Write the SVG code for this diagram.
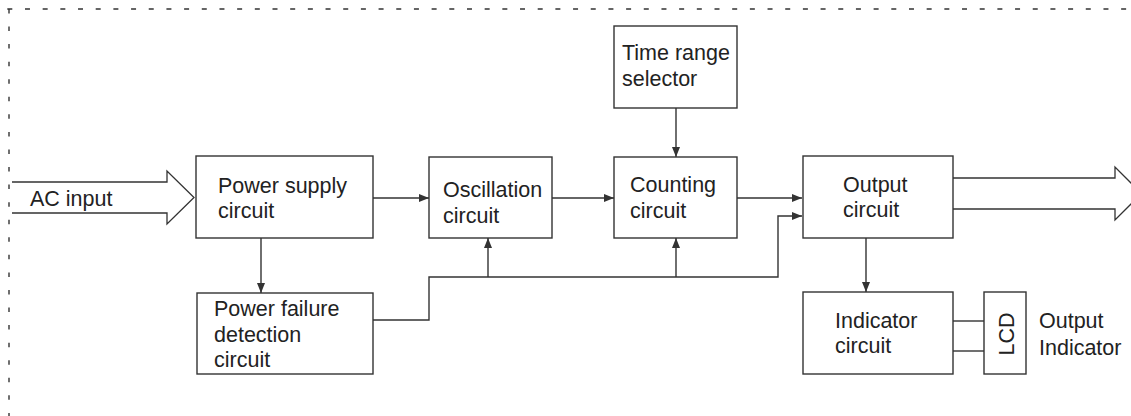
<svg xmlns="http://www.w3.org/2000/svg" width="1131" height="416" viewBox="0 0 1131 416">
<style>
.box{fill:#fff;stroke:#333;stroke-width:1.4}
.ln{fill:none;stroke:#333;stroke-width:1.4}
.big{fill:#fff;stroke:#333;stroke-width:1.3;stroke-linejoin:miter}
.t{font-family:"Liberation Sans",Arial,sans-serif;font-size:21.5px;fill:#222}
.bd{fill:none;stroke:#333;stroke-width:1.4}
</style>
<defs>
<marker id="ah" viewBox="0 0 10 8" refX="10" refY="4" markerWidth="10" markerHeight="8" markerUnits="userSpaceOnUse" orient="auto">
<path d="M0,0 L10,4 L0,8 Z" fill="#333"/>
</marker>
</defs>
<g id="border">
<line class="bd" x1="7.3" y1="9" x2="1131" y2="9" stroke-dasharray="5 12.68"/>
<line class="bd" x1="9" y1="9" x2="9" y2="416" stroke-dasharray="4.5 13.06"/>
</g>
<g id="connectors">
<line class="ln" x1="373" y1="198" x2="429" y2="198" marker-end="url(#ah)"/>
<line class="ln" x1="552" y1="198" x2="614" y2="198" marker-end="url(#ah)"/>
<line class="ln" x1="737" y1="198" x2="802" y2="198" marker-end="url(#ah)"/>
<line class="ln" x1="676" y1="108" x2="676" y2="157" marker-end="url(#ah)"/>
<line class="ln" x1="261" y1="238" x2="261" y2="293" marker-end="url(#ah)"/>
<polyline class="ln" points="373,320 429,320 429,277 778,277 778,216 802,216" marker-end="url(#ah)"/>
<line class="ln" x1="488" y1="277" x2="488" y2="238" marker-end="url(#ah)"/>
<line class="ln" x1="676" y1="277" x2="676" y2="238" marker-end="url(#ah)"/>
<line class="ln" x1="866" y1="238" x2="866" y2="292" marker-end="url(#ah)"/>
<line class="ln" x1="953" y1="321" x2="984" y2="321"/>
<line class="ln" x1="953" y1="351" x2="984" y2="351"/>
<path class="big" d="M12,182 H167 V171 L194,197.5 L167,224 V213 H12"/>
<path class="big" d="M953,178 H1115 V167 L1141.5,193.5 L1115,220 V209 H953"/>
</g>
<g id="ac-input"><text class="t" x="30" y="206">AC input</text></g>
<g id="power-supply">
<rect class="box" x="196" y="156" width="177" height="82"/>
<text class="t" x="218" y="193">Power supply</text>
<text class="t" x="218" y="218">circuit</text>
</g>
<g id="power-failure">
<rect class="box" x="197" y="293" width="176" height="81"/>
<text class="t" x="214" y="316">Power failure</text>
<text class="t" x="214" y="342">detection</text>
<text class="t" x="214" y="367">circuit</text>
</g>
<g id="oscillation">
<rect class="box" x="429" y="157" width="123" height="81"/>
<text class="t" x="443" y="197">Oscillation</text>
<text class="t" x="443" y="223">circuit</text>
</g>
<g id="counting">
<rect class="box" x="614" y="157" width="123" height="81"/>
<text class="t" x="630" y="192">Counting</text>
<text class="t" x="630" y="218">circuit</text>
</g>
<g id="time-range">
<rect class="box" x="614" y="26" width="123" height="82"/>
<text class="t" x="622" y="60">Time range</text>
<text class="t" x="622" y="86">selector</text>
</g>
<g id="output">
<rect class="box" x="803" y="156" width="150" height="82"/>
<text class="t" x="843" y="192">Output</text>
<text class="t" x="843" y="217">circuit</text>
</g>
<g id="indicator">
<rect class="box" x="803" y="292" width="150" height="82"/>
<text class="t" x="835" y="328">Indicator</text>
<text class="t" x="835" y="353">circuit</text>
</g>
<g id="lcd">
<rect class="box" x="984" y="292" width="42" height="82"/>
<text class="t" x="0" y="0" text-anchor="middle" transform="translate(1014,334) rotate(-90)">LCD</text>
</g>
<g id="output-indicator">
<text class="t" x="1039" y="328">Output</text>
<text class="t" x="1039" y="355">Indicator</text>
</g>
</svg>
